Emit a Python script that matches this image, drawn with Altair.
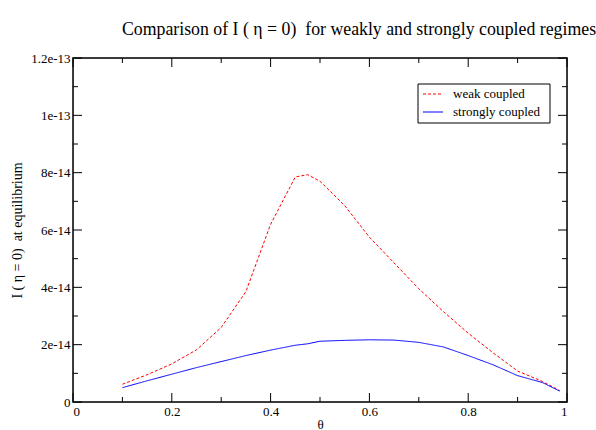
import altair as alt
import pandas as pd

theta = [0.1, 0.15, 0.2, 0.25, 0.3, 0.35, 0.4, 0.45, 0.475, 0.5, 0.55, 0.6,
         0.65, 0.7, 0.75, 0.8, 0.85, 0.9, 0.95, 0.985]
weak = [0.62e-14, 0.95e-14, 1.33e-14, 1.82e-14, 2.6e-14, 3.85e-14, 6.2e-14,
        7.85e-14, 7.93e-14, 7.7e-14, 6.85e-14, 5.75e-14, 4.85e-14, 3.95e-14,
        3.15e-14, 2.4e-14, 1.72e-14, 1.08e-14, 0.72e-14, 0.4e-14]
strong = [0.5e-14, 0.74e-14, 0.97e-14, 1.2e-14, 1.41e-14, 1.62e-14, 1.81e-14,
          1.98e-14, 2.03e-14, 2.12e-14, 2.15e-14, 2.17e-14, 2.16e-14, 2.08e-14,
          1.92e-14, 1.62e-14, 1.3e-14, 0.92e-14, 0.68e-14, 0.38e-14]
series_names = ["weak coupled", "strongly coupled"]

x_major = [0, 0.2, 0.4, 0.6, 0.8, 1.0]
x_minor = [0.1, 0.3, 0.5, 0.7, 0.9]
y_major = [0, 2e-14, 4e-14, 6e-14, 8e-14, 1e-13, 1.2e-13]
y_minor = [1e-14, 3e-14, 5e-14, 7e-14, 9e-14, 1.1e-13]

W, H = 494, 344
FONT = "Liberation Serif"

df = pd.DataFrame({
    "theta": theta * 2,
    "I": weak + strong,
    "series": [series_names[0]] * len(theta) + [series_names[1]] * len(theta),
})
legend_df = pd.DataFrame({"series": series_names, "row": list(range(len(series_names)))})

xscale = alt.Scale(domain=[0, 1], nice=False)
yscale = alt.Scale(domain=[0, 1.2e-13], nice=False)
color_scale = alt.Scale(domain=series_names, range=["#ff0000", "#0000ff"])
dash_scale = alt.Scale(domain=series_names, range=[[3, 2], [1, 0]])

ylabel_expr = "datum.value == 0 ? '0' : replace(format(datum.value, '.2~e'), '\u2212', '-')"

lines = alt.Chart(df).mark_line(strokeWidth=1).encode(
    x=alt.X("theta:Q", scale=xscale,
            axis=alt.Axis(title="θ", values=x_major, ticks=False, domain=False,
                          grid=False, labelFont=FONT, labelFontSize=13,
                          labelPadding=3, titleFont=FONT, titleFontSize=13,
                          titleFontWeight="normal", titlePadding=0,
                          labelColor="black", titleColor="black",
                          labelExpr="datum.value == 1 ? '1' : datum.value == 0 ? '0' : format(datum.value, '.1f')")),
    y=alt.Y("I:Q", scale=yscale,
            axis=alt.Axis(title="I ( η = 0) \u00a0at equilibrium", values=y_major,
                          ticks=False, domain=False, grid=False,
                          labelFont=FONT, labelFontSize=13, labelPadding=3,
                          labelExpr=ylabel_expr, titleFont=FONT,
                          titleFontSize=14, titleFontWeight="normal",
                          titlePadding=6, labelColor="black",
                          titleColor="black")),
    color=alt.Color("series:N", scale=color_scale, legend=None),
    strokeDash=alt.StrokeDash("series:N", scale=dash_scale, legend=None),
)

# plot frame
frame = alt.Chart(legend_df.head(1)).mark_rect(
    fill=None, stroke="black", strokeWidth=1.5
).encode(x=alt.value(0), x2=alt.value(W), y=alt.value(0), y2=alt.value(H))

# legend (frame, line samples, labels)
LX, LY, ROW = 345, 26, 18
legend_box = alt.Chart(legend_df.head(1)).mark_rect(
    fill="white", stroke="black", strokeWidth=1
).encode(x=alt.value(LX), x2=alt.value(LX + 132), y=alt.value(LY), y2=alt.value(LY + 39))

legend_base = alt.Chart(legend_df).transform_calculate(
    ly=f"{LY + 10} + datum.row * {ROW}"
)
legend_lines = legend_base.mark_rule(strokeWidth=1).encode(
    x=alt.value(LX + 5), x2=alt.value(LX + 25),
    y=alt.Y("ly:Q", scale=None),
    color=alt.Color("series:N", scale=color_scale, legend=None),
    strokeDash=alt.StrokeDash("series:N", scale=dash_scale, legend=None),
)
legend_text = legend_base.mark_text(
    align="left", baseline="middle", font=FONT, fontSize=13, color="black"
).encode(x=alt.value(LX + 35), y=alt.Y("ly:Q", scale=None), text="series:N")


def xticks(vals, length):
    d = pd.DataFrame({"v": vals})
    bottom = alt.Chart(d).mark_rule(color="black", strokeWidth=1).encode(
        x=alt.X("v:Q", scale=xscale), y=alt.value(H), y2=alt.value(H - length))
    top = alt.Chart(d).mark_rule(color="black", strokeWidth=1).encode(
        x=alt.X("v:Q", scale=xscale), y=alt.value(0), y2=alt.value(length))
    return [bottom, top]


def yticks(vals, length):
    d = pd.DataFrame({"v": vals})
    left = alt.Chart(d).mark_rule(color="black", strokeWidth=1).encode(
        y=alt.Y("v:Q", scale=yscale), x=alt.value(0), x2=alt.value(length))
    right = alt.Chart(d).mark_rule(color="black", strokeWidth=1).encode(
        y=alt.Y("v:Q", scale=yscale), x=alt.value(W), x2=alt.value(W - length))
    return [left, right]


tick_layers = xticks(x_major, 9) + xticks(x_minor, 5) + yticks(y_major, 9) + yticks(y_minor, 5)

chart = alt.layer(lines, *tick_layers, frame, legend_box, legend_lines, legend_text).properties(
    width=W, height=H,
    title=alt.TitleParams(
        "Comparison of I ( η = 0) \u00a0for weakly and strongly coupled regimes",
        font=FONT, fontSize=17.8, fontWeight="normal", color="black",
        anchor="middle", dx=39, dy=24, offset=23, baseline="alphabetic", frame="group"),
    autosize=alt.AutoSizeParams(type="none"),
    padding={"left": 73, "top": 58, "right": 29, "bottom": 28},
).configure_view(stroke="black", strokeWidth=1.5).configure_axis(
    ticks=False, domain=False, grid=False
).configure(background="white")

chart.save("out.html", embed_options={"renderer": "svg", "actions": False})
